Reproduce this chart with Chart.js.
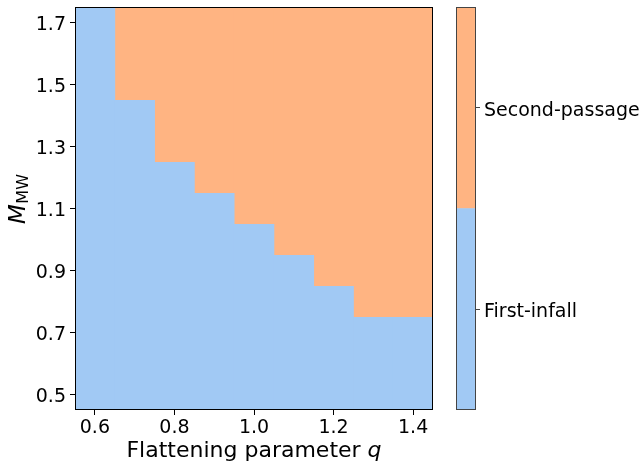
<!DOCTYPE html>
<html>
<head>
<meta charset="utf-8">
<script src="https://cdn.jsdelivr.net/npm/chart.js@4.4.0/dist/chart.umd.min.js"></script>
<style>
  html, body { margin: 0; padding: 0; background: #fff; }
  #wrap { position: relative; width: 641px; height: 467px; }
  #main { position: absolute; left: 0; top: 0; }
  #cbar { position: absolute; left: 440px; top: 0; }
</style>
</head>
<body>
<div id="wrap">
  <canvas id="main" width="641" height="467"></canvas>
  <canvas id="cbar" width="201" height="467"></canvas>
</div>
<script>
// flattening parameter q (columns) and halo mass M_MW (rows)
const qValues = [0.6, 0.7, 0.8, 0.9, 1.0, 1.1, 1.2, 1.3, 1.4];
const mValues = [0.5, 0.6, 0.7, 0.8, 0.9, 1.0, 1.1, 1.2, 1.3, 1.4, 1.5, 1.6, 1.7];

// 0 = First-infall, 1 = Second-passage ; one row per M, low to high
const regime = [
  [0, 0, 0, 0, 0, 0, 0, 0, 0], // 0.5
  [0, 0, 0, 0, 0, 0, 0, 0, 0], // 0.6
  [0, 0, 0, 0, 0, 0, 0, 0, 0], // 0.7
  [0, 0, 0, 0, 0, 0, 0, 1, 1], // 0.8
  [0, 0, 0, 0, 0, 0, 1, 1, 1], // 0.9
  [0, 0, 0, 0, 0, 1, 1, 1, 1], // 1.0
  [0, 0, 0, 0, 1, 1, 1, 1, 1], // 1.1
  [0, 0, 0, 1, 1, 1, 1, 1, 1], // 1.2
  [0, 0, 1, 1, 1, 1, 1, 1, 1], // 1.3
  [0, 0, 1, 1, 1, 1, 1, 1, 1], // 1.4
  [0, 1, 1, 1, 1, 1, 1, 1, 1], // 1.5
  [0, 1, 1, 1, 1, 1, 1, 1, 1], // 1.6
  [0, 1, 1, 1, 1, 1, 1, 1, 1], // 1.7
];

const classNames = ["First-infall", "Second-passage"];
const classColors = ["#a1c9f4", "#ffb482"];

const xTicks = [0.6, 0.8, 1.0, 1.2, 1.4];
const yTicks = [0.5, 0.7, 0.9, 1.1, 1.3, 1.5, 1.7];

const FONT = "'DejaVu Sans', sans-serif";
const qStep = 0.1, mStep = 0.1;

// merge consecutive cells of the same class in each column into one floating bar
function buildBars(cls) {
  const out = [];
  qValues.forEach((q, c) => {
    let start = null;
    for (let r = 0; r <= mValues.length; r++) {
      const isCls = r < mValues.length && regime[r][c] === cls;
      if (isCls && start === null) start = r;
      if (!isCls && start !== null) {
        out.push({ x: q, y: [mValues[start] - mStep / 2, mValues[r - 1] + mStep / 2] });
        start = null;
      }
    }
  });
  return out;
}

const frameTitles = {
  id: "frameTitles",
  afterDraw(chart) {
    const { ctx, chartArea: a } = chart;
    ctx.save();
    ctx.strokeStyle = "#000";
    ctx.lineWidth = 1;
    ctx.strokeRect(Math.round(a.left) + 0.5, Math.round(a.top) + 0.5,
      Math.round(a.right - a.left) - 1, Math.round(a.bottom - a.top) - 1);

    // x title: "Flattening parameter q"
    ctx.fillStyle = "#000";
    ctx.textBaseline = "alphabetic";
    ctx.textAlign = "left";
    const part1 = "Flattening parameter ";
    ctx.font = "22px " + FONT;
    const w1 = ctx.measureText(part1).width;
    ctx.font = "italic 22px " + FONT;
    const w2 = ctx.measureText("q").width;
    let x0 = (a.left + a.right) / 2 - (w1 + w2) / 2;
    ctx.font = "22px " + FONT;
    ctx.fillText(part1, x0, 457);
    ctx.font = "italic 22px " + FONT;
    ctx.fillText("q", x0 + w1, 457);

    // y title: M_MW
    ctx.translate(25, 224);
    ctx.rotate(-Math.PI / 2);
    ctx.font = "italic 23px " + FONT;
    const wm = ctx.measureText("M").width;
    ctx.fillText("M", 0, 0);
    ctx.font = "16px " + FONT;
    ctx.fillText("MW", wm + 0.5, 3);
    ctx.restore();
  }
};

function noEdgePad(s) {
  s.paddingTop = 0; s.paddingBottom = 0; s.paddingLeft = 0; s.paddingRight = 0;
}

new Chart(document.getElementById("main"), {
  type: "bar",
  data: {
    datasets: classNames.map((name, k) => ({
      label: name,
      data: buildBars(k),
      backgroundColor: classColors[k],
      borderWidth: 0,
      grouped: false,
      barPercentage: 1.02,
      categoryPercentage: 1,
    })),
  },
  options: {
    responsive: false,
    animation: false,
    layout: { padding: { top: 7, right: 208, left: 0, bottom: 0 } },
    plugins: { legend: { display: false }, tooltip: { enabled: false } },
    scales: {
      x: {
        type: "linear",
        offset: false,
        min: qValues[0] - qStep / 2,
        max: qValues[qValues.length - 1] + qStep / 2,
        afterBuildTicks: (s) => { s.ticks = xTicks.map((v) => ({ value: v })); },
        afterFit: (s) => { s.height = 57; noEdgePad(s); },
        ticks: { color: "#000", font: { family: FONT, size: 19 }, padding: 2,
          maxRotation: 0, callback: (v) => v.toFixed(1) },
        grid: { offset: false, drawOnChartArea: false, drawTicks: true, tickLength: 5, color: "#000" },
        border: { display: false },
      },
      y: {
        type: "linear",
        min: mValues[0] - mStep / 2,
        max: mValues[mValues.length - 1] + mStep / 2,
        afterBuildTicks: (s) => { s.ticks = yTicks.map((v) => ({ value: v })); },
        afterFit: (s) => { s.width = 75; noEdgePad(s); },
        ticks: { color: "#000", font: { family: FONT, size: 19 }, padding: 4, labelOffset: 3,
          callback: (v) => v.toFixed(1) },
        grid: { drawOnChartArea: false, drawTicks: true, tickLength: 5, color: "#000" },
        border: { display: false },
      },
    },
  },
  plugins: [frameTitles],
});

// colour bar
const cbFrame = {
  id: "cbFrame",
  afterDraw(chart) {
    const { ctx, chartArea: a } = chart;
    ctx.save();
    ctx.strokeStyle = "#444";
    ctx.lineWidth = 1;
    ctx.strokeRect(Math.round(a.left) + 0.5, Math.round(a.top) + 0.5,
      Math.round(a.right - a.left) - 1, Math.round(a.bottom - a.top) - 1);
    ctx.restore();
  }
};

new Chart(document.getElementById("cbar"), {
  type: "bar",
  data: {
    labels: ["cb"],
    datasets: classNames.map((name, k) => ({
      label: name,
      data: [[k, k + 1]],
      backgroundColor: classColors[k],
      borderWidth: 0,
      grouped: false,
      barPercentage: 1,
      categoryPercentage: 1,
    })),
  },
  options: {
    responsive: false,
    animation: false,
    layout: { padding: { top: 7, left: 16, right: 0, bottom: 57 } },
    plugins: { legend: { display: false }, tooltip: { enabled: false } },
    scales: {
      x: { display: false },
      y: {
        position: "right",
        min: 0,
        max: classNames.length,
        afterBuildTicks: (s) => { s.ticks = classNames.map((n, k) => ({ value: k + 0.5 })); },
        afterFit: (s) => { s.width = 165; noEdgePad(s); },
        ticks: { color: "#000", font: { family: FONT, size: 19 }, padding: 4, labelOffset: 3,
          callback: (v) => classNames[Math.floor(v)] },
        grid: { drawOnChartArea: false, drawTicks: true, tickLength: 4, color: "#444" },
        border: { display: false },
      },
    },
  },
  plugins: [cbFrame],
});
</script>
</body>
</html>
